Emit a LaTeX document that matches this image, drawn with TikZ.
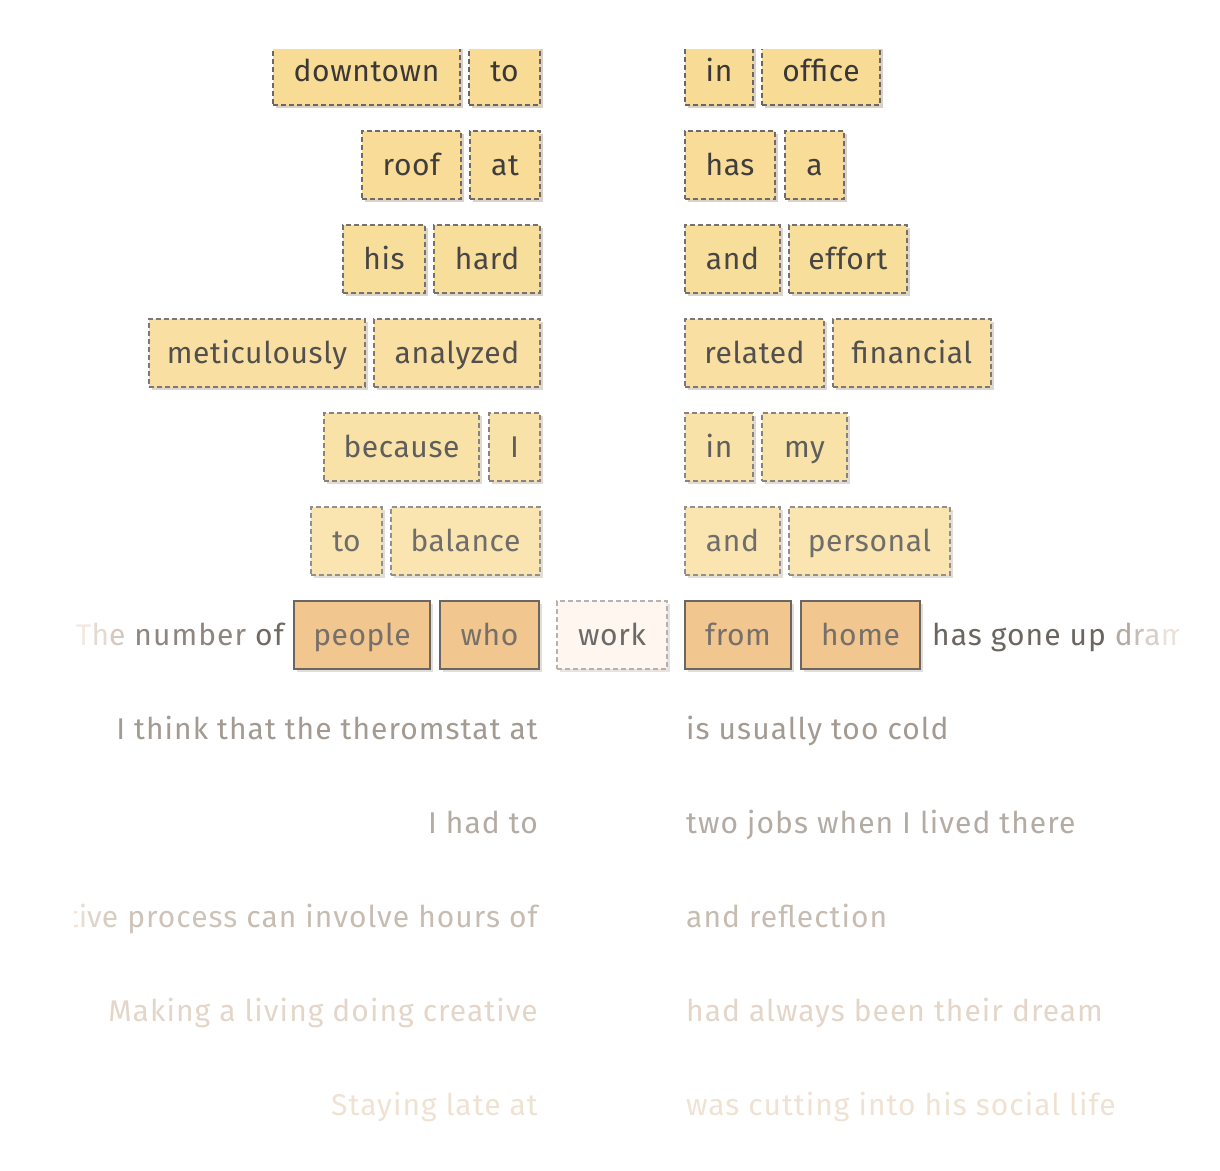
\documentclass[tikz,border=0pt]{standalone}
\usepackage{fontspec}
\setmainfont{Fira Sans}
\newfontfamily\wordfont[LetterSpace=2]{Fira Sans}
\newfontfamily\linefont[LetterSpace=3.5]{Fira Sans}
\usetikzlibrary{shadows}

\definecolor{gold}{HTML}{F8DB94}
\definecolor{ink}{HTML}{3A3836}
\definecolor{edge}{HTML}{6B6661}
\definecolor{shade}{HTML}{D9D1C8}
\definecolor{peach}{HTML}{F2C68F}
\definecolor{peachink}{HTML}{77706A}
\definecolor{paper}{HTML}{FFF6EF}
\definecolor{s1}{HTML}{A39A92}
\definecolor{s2}{HTML}{B4ABA3}
\definecolor{s3}{HTML}{C7BCB1}
\definecolor{s4}{HTML}{E3D6C8}
\definecolor{s5}{HTML}{EFE2D2}

\tikzset{
  x=1pt, y=-1pt,
  every node/.style={inner sep=0pt, text height=26pt, text depth=6pt},
  boxed/.style={font=\fontsize{30}{36}\selectfont\wordfont, line width=1.3pt,
    minimum height=68pt},
  % dashed candidate word, faded by percentage #1
  wbox/.style={boxed, draw=edge!#1!white, fill=gold!#1!white, text=ink!#1!white,
    dash pattern=on 5pt off 3pt,
    general shadow={fill=shade!#1!white, shadow xshift=3pt, shadow yshift=-3pt}},
  % solid word of the sentence
  sbox/.style={boxed, draw=edge, fill=peach, text=peachink,
    general shadow={fill=shade!75!white, shadow xshift=3pt, shadow yshift=-3pt}},
  % the open slot
  slot/.style={boxed, draw=edge!50!white, fill=paper, text=ink!75!white,
    dash pattern=on 5pt off 3pt,
    general shadow={fill=shade!60!white, shadow xshift=3pt, shadow yshift=-3pt}},
  sent/.style={font=\fontsize{30}{36}\selectfont\linefont},
  lsent/.style={sent, anchor=east},
  rsent/.style={sent, anchor=west}
}

% #1 name, #2 style, #3 left x, #4 right x, #5 centre y, #6 word
\newcommand\wordbox[6]{%
  \node[#2, minimum width={#4-#3}] (#1) at ({(#3+#4)/2}, #5) {#6};}

\begin{document}
\begin{tikzpicture}
\useasboundingbox (0,0) rectangle (1220,1170);
\begin{scope}
\clip (0,49) rectangle (1220,1170);

% candidate words, left column
\wordbox{l1a}{wbox=100}{273}{460}{71}{downtown}
\wordbox{l1b}{wbox=100}{469}{540}{71}{to}
\wordbox{l2a}{wbox=97}{362}{461}{165}{roof}
\wordbox{l2b}{wbox=97}{470}{540}{165}{at}
\wordbox{l3a}{wbox=93}{343}{425}{259}{his}
\wordbox{l3b}{wbox=93}{434}{540}{259}{hard}
\wordbox{l4a}{wbox=88}{149}{365}{353}{meticulously}
\wordbox{l4b}{wbox=88}{374}{540}{353}{analyzed}
\wordbox{l5a}{wbox=81}{324}{479}{447}{because}
\wordbox{l5b}{wbox=81}{489}{540}{447}{I}
\wordbox{l6a}{wbox=73}{311}{382}{541}{to}
\wordbox{l6b}{wbox=73}{391}{540}{541}{balance}

% candidate words, right column
\wordbox{r1a}{wbox=100}{685}{753}{71}{in}
\wordbox{r1b}{wbox=100}{762}{880}{71}{office}
\wordbox{r2a}{wbox=97}{685}{775}{165}{has}
\wordbox{r2b}{wbox=97}{785}{844}{165}{a}
\wordbox{r3a}{wbox=93}{685}{780}{259}{and}
\wordbox{r3b}{wbox=93}{789}{907}{259}{effort}
\wordbox{r4a}{wbox=88}{685}{824}{353}{related}
\wordbox{r4b}{wbox=88}{833}{991}{353}{financial}
\wordbox{r5a}{wbox=81}{685}{753}{447}{in}
\wordbox{r5b}{wbox=81}{762}{847}{447}{my}
\wordbox{r6a}{wbox=73}{685}{780}{541}{and}
\wordbox{r6b}{wbox=73}{789}{950}{541}{personal}

% the sentence in focus
\wordbox{people}{sbox}{294}{430}{635}{people}
\wordbox{who}{sbox}{440}{539}{635}{who}
\wordbox{work}{slot}{557}{667}{635}{work}
\wordbox{from}{sbox}{685}{791}{635}{from}
\wordbox{home}{sbox}{801}{920}{635}{home}
\end{scope}

\begin{scope}
\clip (74,49) rectangle (1178,1170);
\node[lsent] (pre) at (284,635)
  {\color[HTML]{F2EAE2}T\color[HTML]{E4DAD0}h\color[HTML]{D3C9BF}e
   \color[HTML]{8E867E}number \color[HTML]{716A64}of};
\node[rsent] (post) at (932,635)
  {\color[HTML]{6C6660}has gone up
   \color[HTML]{B2AAA2}d\color[HTML]{C6BEB6}r\color[HTML]{D8D0C8}a\color[HTML]{EAE2DA}matically};

% other sentences with the same gap
\node[lsent, text=s1] (a1) at (538,729) {I think that the theromstat at};
\node[rsent, text=s1] (b1) at (686,729) {is usually too cold};
\node[lsent, text=s2] (a2) at (538,823) {I had to};
\node[rsent, text=s2] (b2) at (686,823) {two jobs when I lived there};
\node[lsent, text=s3] (a3) at (538,917)
  {\color[HTML]{F4ECE4}crea\color[HTML]{EDE3D9}t\color[HTML]{E6DCD2}i\color[HTML]{DFD4CA}v\color[HTML]{D8CDC2}e
   \color[HTML]{CEC3B8}process \color{s3}can involve hours of};
\node[rsent, text=s3] (b3) at (686,917) {and reflection};
\node[lsent, text=s4] (a4) at (538,1011) {Making a living doing creative};
\node[rsent, text=s4] (b4) at (686,1011) {had always been their dream};
\node[lsent, text=s5] (a5) at (538,1105) {Staying late at};
\node[rsent, text=s5] (b5) at (686,1105) {was cutting into his social life};
\end{scope}
\end{tikzpicture}
\end{document}
